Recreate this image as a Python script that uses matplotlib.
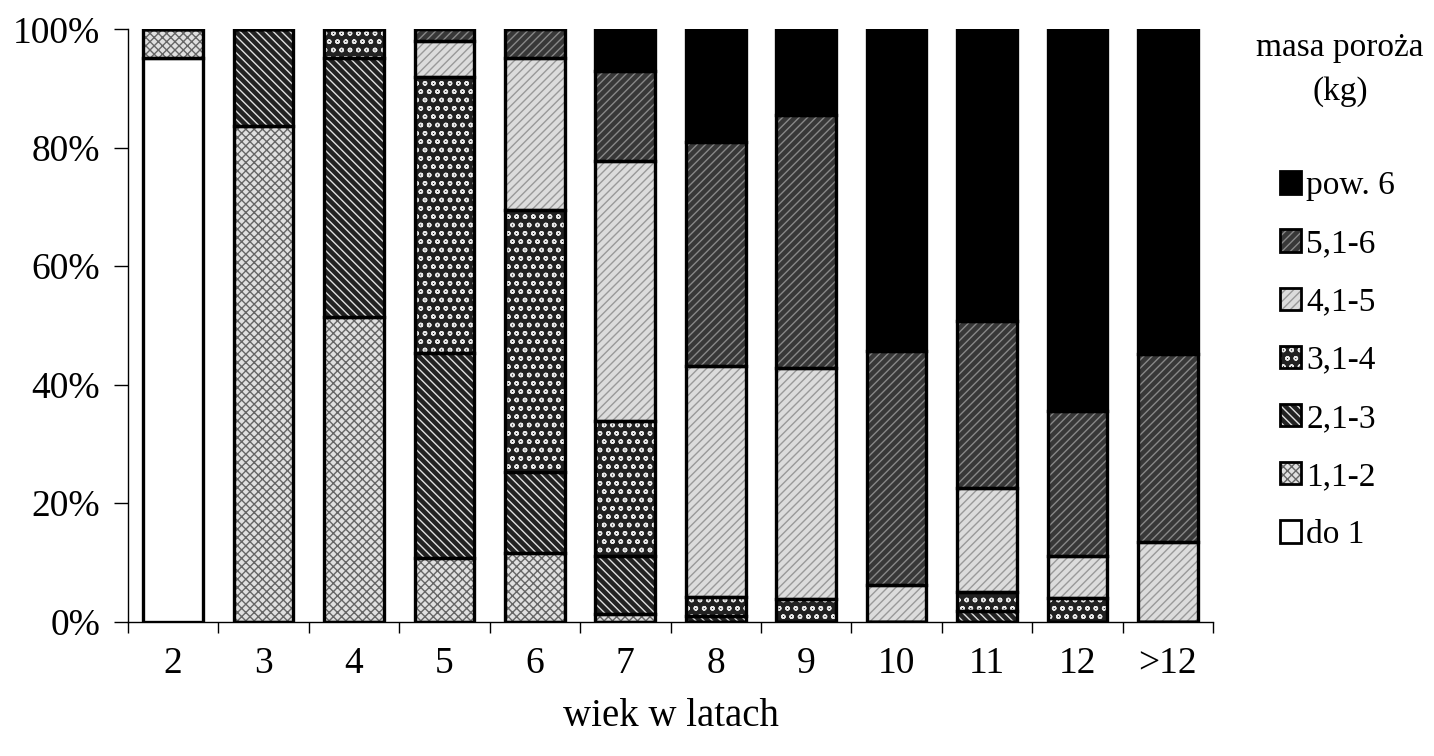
import matplotlib
matplotlib.use("Agg")
import matplotlib.pyplot as plt
from matplotlib.legend_handler import HandlerTuple
from matplotlib.patches import Patch
import numpy as np

categories = ['2', '3', '4', '5', '6', '7', '8', '9', '10', '11', '12', '>12']
series_names = ['do 1', '1,1-2', '2,1-3', '3,1-4', '4,1-5', '5,1-6', 'pow. 6']
do1   = [95.2, 0, 0, 0, 0, 0, 0, 0, 0, 0, 0, 0]
s1_2  = [4.8, 83.6, 51.5, 10.8, 11.6, 1.2, 0, 0, 0, 0, 0, 0]
s2_3  = [0, 16.4, 43.6, 34.5, 13.7, 9.9, 1.0, 0, 0, 1.7, 0, 0]
s3_4  = [0, 0, 4.9, 46.7, 44.2, 22.8, 3.2, 3.8, 0, 3.3, 4.0, 0]
s4_5  = [0, 0, 0, 6.0, 25.6, 43.8, 39.0, 39.0, 6.2, 17.5, 7.1, 13.4]
s5_6  = [0, 0, 0, 2.0, 4.9, 15.3, 37.7, 42.8, 39.4, 28.2, 24.5, 31.7]
pow6  = [0, 0, 0, 0, 0, 7.0, 19.1, 14.4, 54.4, 49.3, 64.4, 54.9]
series = [do1, s1_2, s2_3, s3_4, s4_5, s5_6, pow6]

# style: (facecolor, hatch, hatchcolor)
styles = [
    ('white', None, 'white'),
    ('#e0e0e0', 'xxxx', '#666666'),
    ('#222222', '\\\\\\\\', '#e0e0e0'),
    ('#222222', 'oo', '#e8e8e8'),
    ('#dcdcdc', '////', '#999999'),
    ('#383838', '////', '#888888'),
    ('black', None, 'black'),
]

plt.rcParams['font.family'] = ['Liberation Serif', 'DejaVu Serif']
plt.rcParams['hatch.linewidth'] = 1.0

fig = plt.figure(figsize=(14.34, 7.56), dpi=100)
ax = fig.add_axes([128/1434, (756-621.5)/756, (1213-128)/1434, (621.5-29.3)/756])

x = np.arange(len(categories))
width = 0.66
bottom = np.zeros(len(categories))
handles = []
for name, vals, (fc, hatch, hc) in zip(series_names, series, styles):
    vals = np.array(vals, dtype=float)
    ax.bar(x, vals, width, bottom=bottom, color=fc, hatch=hatch,
           edgecolor=hc, linewidth=0, zorder=2)
    ax.bar(x, vals, width, bottom=bottom, fill=False,
           edgecolor='black', linewidth=2.4, zorder=3)
    h = Patch(facecolor=fc, hatch=hatch, edgecolor=hc, linewidth=0)
    hb = Patch(fill=False, edgecolor='black', linewidth=2.0)
    handles.append((h, hb))
    bottom += vals

ax.set_xlim(-0.5, len(categories) - 0.5)
ax.set_ylim(0, 100)
ax.set_yticks([0, 20, 40, 60, 80, 100])
ax.set_yticklabels([f'{v}%' for v in [0, 20, 40, 60, 80, 100]], fontsize=27)
ax.set_xticks(x)
ax.set_xticklabels(categories, fontsize=27)
ax.set_xticks(np.arange(-0.5, len(categories)), minor=True)
ax.tick_params(axis='x', which='major', length=0, pad=18)
ax.tick_params(axis='x', which='minor', length=8, width=1, direction='out')
ax.tick_params(axis='y', length=10, width=1, direction='out', pad=10)
ax.spines['top'].set_visible(False)
ax.spines['right'].set_visible(False)
ax.spines['left'].set_linewidth(1)
ax.spines['bottom'].set_linewidth(1)
ax.set_xlabel('wiek w latach', fontsize=28, labelpad=12)

fig.text(1340/1434, 1 - 48/756, 'masa poroża', ha='center', va='center', fontsize=24)
fig.text(1340/1434, 1 - 92/756, '(kg)', ha='center', va='center', fontsize=24)

leg = fig.legend(handles[::-1], series_names[::-1], loc='upper left',
                 bbox_to_anchor=(1263/1434, 1 - 154/756), frameon=False,
                 fontsize=24, handlelength=0.65, handleheight=0.65,
                 handletextpad=0.15, labelspacing=0.83, borderpad=0,
                 handler_map={tuple: HandlerTuple(ndivide=1, pad=0)})

fig.savefig('out.png', dpi=100)
